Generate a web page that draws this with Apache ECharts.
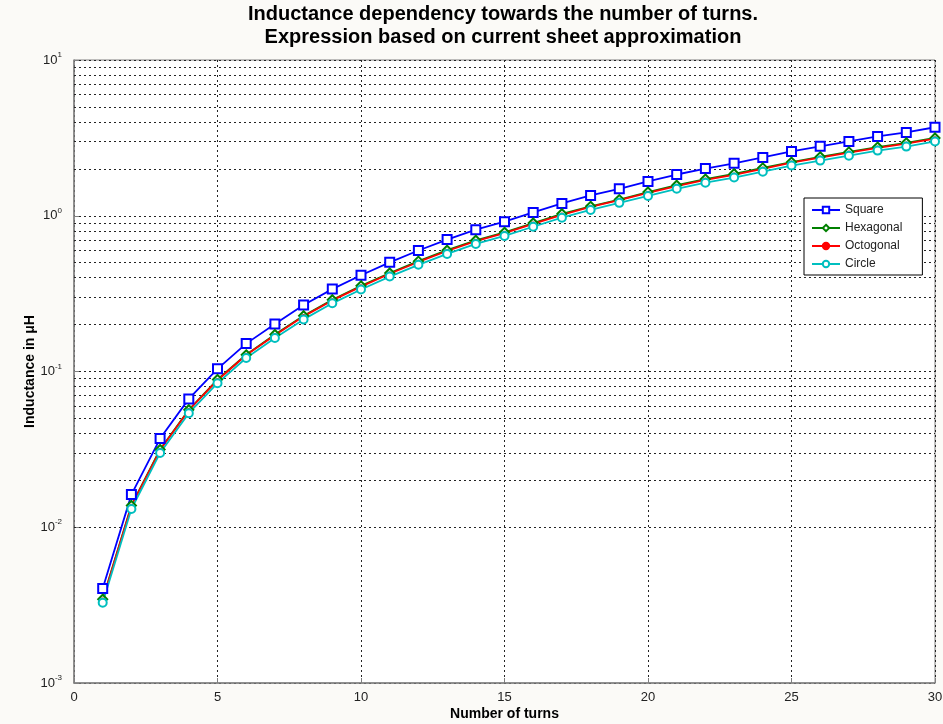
<!DOCTYPE html>
<html><head><meta charset="utf-8">
<script src="https://cdn.jsdelivr.net/npm/echarts@6/dist/echarts.min.js"></script>
<style>html,body{margin:0;padding:0;background:#fbfaf7;}#c{width:943px;height:724px;}</style>
</head><body><div id="c"></div>
<script>
const turns = [1,2,3,4,5,6,7,8,9,10,11,12,13,14,15,16,17,18,19,20,21,22,23,24,25,26,27,28,29,30];
const square = [0.00405,0.0162,0.0371,0.0667,0.104,0.151,0.202,0.267,0.338,0.415,0.502,0.598,0.703,0.814,0.916,1.05,1.20,1.35,1.49,1.66,1.84,2.01,2.17,2.37,2.59,2.79,3.00,3.23,3.43,3.70];
const hexagonal = [0.00345,0.0138,0.0316,0.0568,0.0888,0.128,0.173,0.228,0.289,0.355,0.429,0.511,0.601,0.696,0.783,0.898,1.03,1.15,1.27,1.42,1.57,1.72,1.86,2.03,2.21,2.39,2.57,2.76,2.94,3.16];
const octogonal = [0.00342,0.0137,0.0313,0.0564,0.0879,0.1276,0.171,0.226,0.286,0.351,0.424,0.505,0.594,0.688,0.774,0.887,1.014,1.14,1.26,1.40,1.55,1.70,1.83,2.00,2.19,2.36,2.54,2.73,2.90,3.13];
const circle = [0.00328,0.0131,0.0300,0.0540,0.0842,0.122,0.164,0.216,0.274,0.336,0.407,0.484,0.569,0.659,0.742,0.850,0.972,1.09,1.21,1.34,1.49,1.63,1.76,1.92,2.10,2.26,2.43,2.62,2.78,3.00];
const xTicks = [0,5,10,15,20,25,30];
const yGridValues = [0.002,0.003,0.004,0.005,0.006,0.007,0.008,0.009,
  0.02,0.03,0.04,0.05,0.06,0.07,0.08,0.09,
  0.2,0.3,0.4,0.5,0.6,0.7,0.8,0.9,
  2,3,4,5,6,7,8,9];

const chart = echarts.init(document.getElementById('c'), null, {renderer:'canvas'});
const font = 'Liberation Sans, Arial, sans-serif';
const dotted = {type:[2,3], color:'#222', width:1};
function mk(name, arr, color, symbol, size){
  return {name:name, type:'line', data: turns.map((n,i)=>[n, arr[i]]),
    symbol:symbol, symbolSize:size, z:3,
    lineStyle:{color:color, width:1.8},
    itemStyle:{color:color, borderColor:color, borderWidth:1.5},
    animation:false};
}
chart.setOption({
  backgroundColor:'#fbfaf7',
  animation:false,
  title:{text:'Inductance dependency towards the number of turns.\nExpression based on current sheet approximation',
    left:503, textAlign:'center', top:3, padding:0,
    textStyle:{fontFamily:font, fontSize:20, fontWeight:'bold', color:'#000', lineHeight:23}},
  grid:{left:74, right:8, top:60, bottom:41, outerBoundsMode:'none', containLabel:false,
    show:true, backgroundColor:'#ffffff', borderColor:'#808080', borderWidth:1},
  legend:{orient:'vertical', left:804, top:198, padding:[6,20,5,7], itemWidth:28, itemHeight:8, itemGap:6,
    backgroundColor:'#ffffff', borderColor:'#000', borderWidth:1,
    data:['Square','Hexagonal','Octogonal','Circle'],
    textStyle:{fontFamily:font, fontSize:12, color:'#222'}},
  xAxis:{type:'value', min:0, max:30, interval:5,
    name:'Number of turns', nameLocation:'middle', nameGap:24, nameMoveOverlap:false,
    nameTextStyle:{fontFamily:font, fontSize:14, fontWeight:'bold', color:'#000'},
    axisLine:{show:true, lineStyle:{color:'#808080', width:1.5}},
    axisTick:{show:true, inside:true, length:5, lineStyle:{color:'#808080'}},
    axisLabel:{fontFamily:font, fontSize:13, color:'#222', margin:8, formatter: v => xTicks.includes(v) ? String(v) : ''},
    splitLine:{show:true, lineStyle:dotted}},
  yAxis:{type:'log', logBase:10, min:0.001, max:10,
    name:'Inductance in μH', nameLocation:'middle', nameGap:37, nameRotate:90, nameMoveOverlap:false,
    nameTextStyle:{fontFamily:font, fontSize:14, fontWeight:'bold', color:'#000'},
    axisLine:{show:true, lineStyle:{color:'#808080', width:1.5}},
    axisTick:{show:true, inside:true, length:5, lineStyle:{color:'#808080'}},
    axisLabel:{margin:12, formatter: v => '{b|10}{s|' + Math.round(Math.log10(v)) + '}',
      rich:{b:{fontFamily:font, fontSize:13, color:'#222'}, s:{fontFamily:font, fontSize:8, color:'#222', padding:[0,0,10,0]}}},
    splitLine:{show:true, lineStyle:dotted}},
  series:[
    {type:'line', data:[], z:1, silent:true,
      markLine:{silent:true, z:1, symbol:['none','none'], label:{show:false}, animation:false,
        lineStyle:dotted, emphasis:{disabled:true},
        data: yGridValues.map(v => ({yAxis:v}))}},
    mk('Square', square, '#0000ff', 'emptyRect', 9),
    mk('Hexagonal', hexagonal, '#008000', 'emptyDiamond', 9),
    mk('Octogonal', octogonal, '#ff0000', 'circle', 3),
    mk('Circle', circle, '#00bfbf', 'emptyCircle', 8)
  ]
});
</script></body></html>
